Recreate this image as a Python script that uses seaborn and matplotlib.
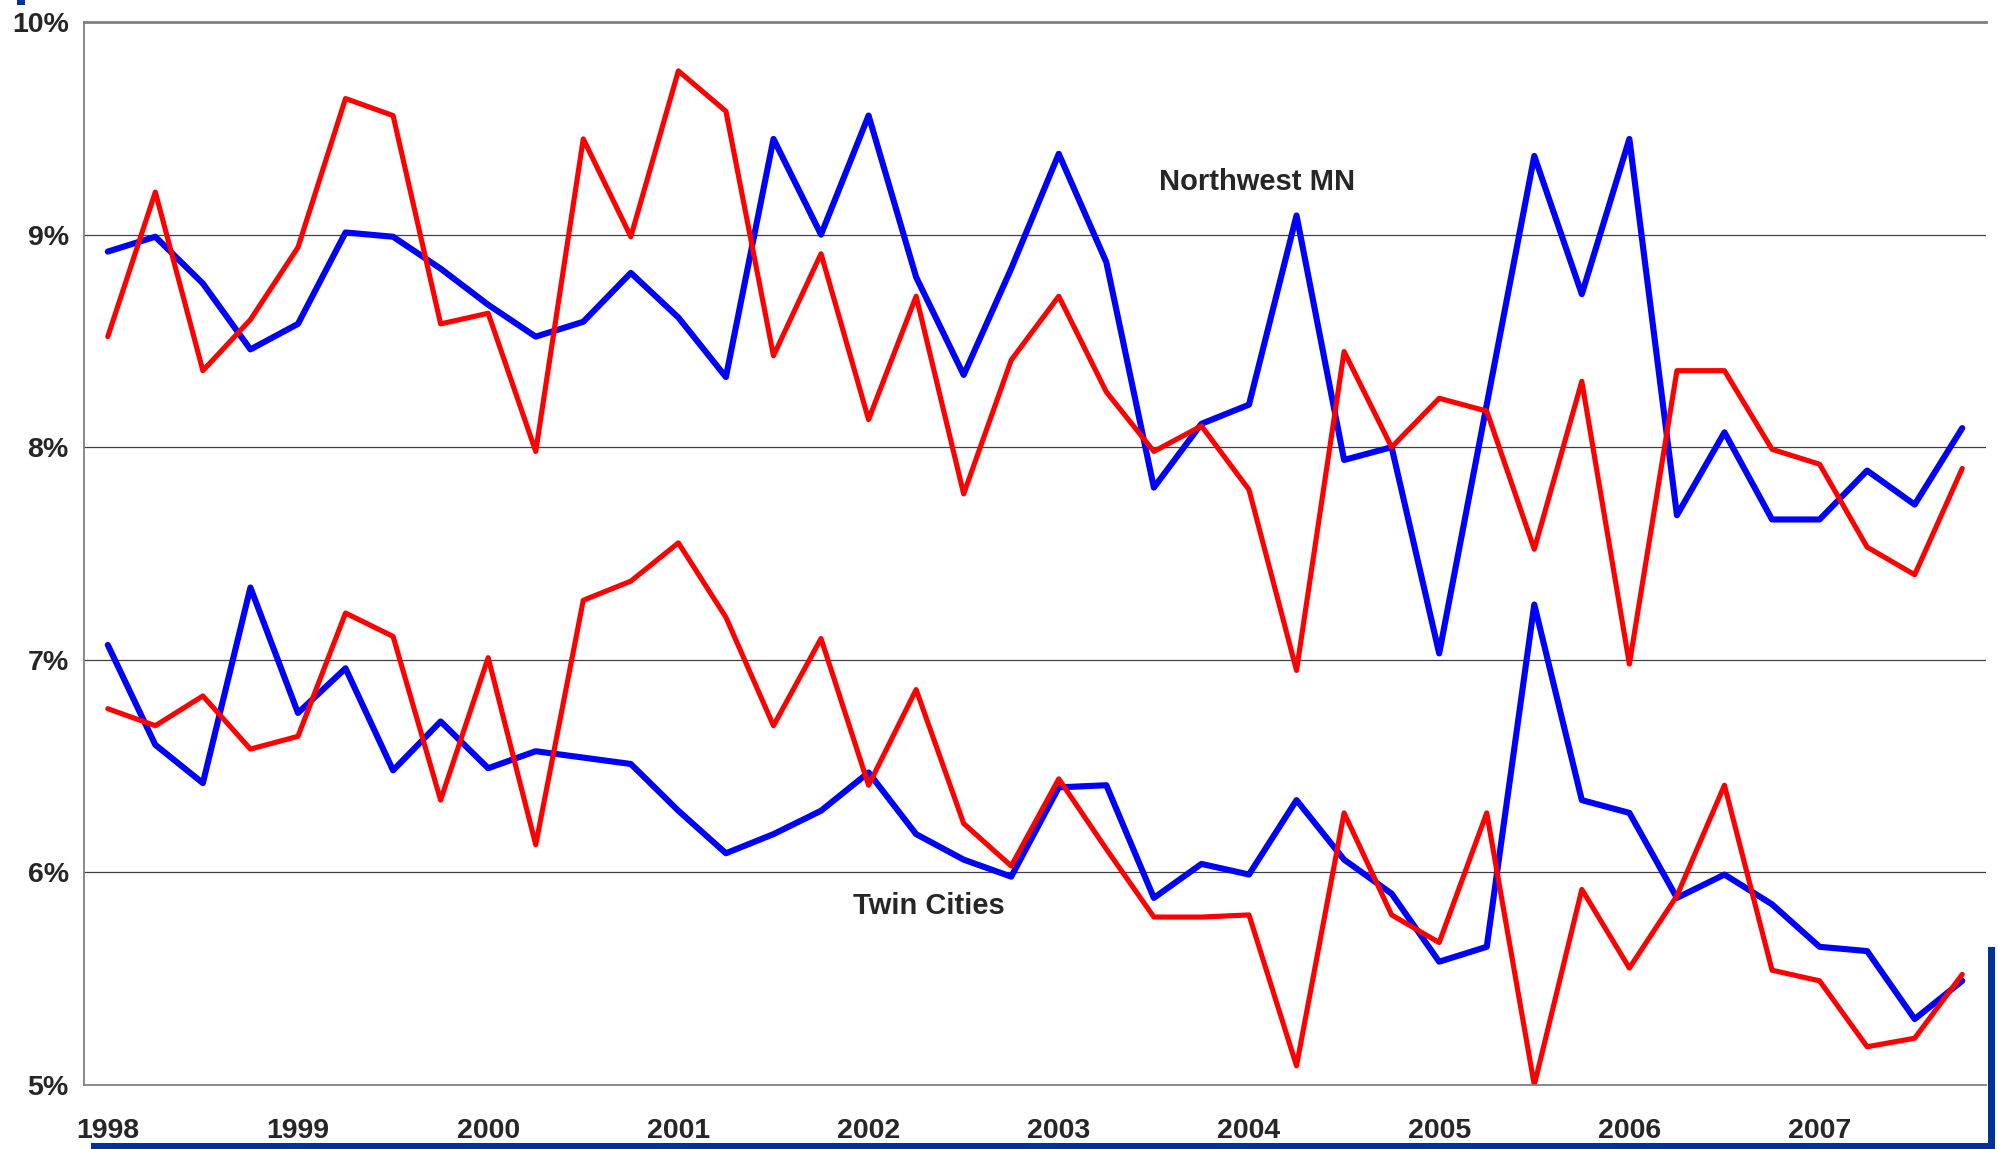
import pandas as pd
import matplotlib
matplotlib.use("Agg")
import matplotlib.pyplot as plt
from matplotlib import font_manager
from matplotlib.patches import Rectangle
from matplotlib.ticker import FixedLocator, FuncFormatter
import seaborn as sns

years = [str(y) for y in range(1998, 2008)]
quarters = [f"{y} Q{q}" for y in years for q in range(1, 5)]

# Northwest MN (upper pair)
nw_red = [8.52, 9.20, 8.36, 8.60, 8.94, 9.64, 9.56, 8.58, 8.63, 7.98,
          9.45, 8.99, 9.77, 9.58, 8.43, 8.91, 8.13, 8.71, 7.78, 8.41,
          8.71, 8.26, 7.98, 8.10, 7.80, 6.95, 8.45, 8.00, 8.23, 8.17,
          7.52, 8.31, 6.98, 8.36, 8.36, 7.99, 7.92, 7.53, 7.40, 7.90]
nw_blue = [8.92, 8.99, 8.77, 8.46, 8.58, 9.01, 8.99, 8.84, 8.67, 8.52,
           8.59, 8.82, 8.61, 8.33, 9.45, 9.00, 9.56, 8.80, 8.34, 8.84,
           9.38, 8.87, 7.81, 8.11, 8.20, 9.09, 7.94, 8.00, 7.03, 8.20,
           9.37, 8.72, 9.45, 7.68, 8.07, 7.66, 7.66, 7.89, 7.73, 8.09]

# Twin Cities (lower pair)
tc_red = [6.77, 6.69, 6.83, 6.58, 6.64, 7.22, 7.11, 6.34, 7.01, 6.13,
          7.28, 7.37, 7.55, 7.20, 6.69, 7.10, 6.41, 6.86, 6.23, 6.03,
          6.44, 6.11, 5.79, 5.79, 5.80, 5.09, 6.28, 5.80, 5.67, 6.28,
          5.00, 5.92, 5.55, 5.89, 6.41, 5.54, 5.49, 5.18, 5.22, 5.52]
tc_blue = [7.07, 6.60, 6.42, 7.34, 6.75, 6.96, 6.48, 6.71, 6.49, 6.57,
           6.54, 6.51, 6.29, 6.09, 6.18, 6.29, 6.47, 6.18, 6.06, 5.98,
           6.40, 6.41, 5.88, 6.04, 5.99, 6.34, 6.06, 5.90, 5.58, 5.65,
           7.26, 6.34, 6.28, 5.88, 5.99, 5.85, 5.65, 5.63, 5.31, 5.49]

series = {
    "nw_blue": (nw_blue, "#0000FF", 4.4),
    "tc_blue": (tc_blue, "#0000FF", 4.4),
    "nw_red": (nw_red, "#FF0000", 3.7),
    "tc_red": (tc_red, "#FF0000", 3.7),
}

rows = []
for name, (vals, _, _) in series.items():
    for i, (q, v) in enumerate(zip(quarters, vals)):
        rows.append({"series": name, "idx": i, "quarter": q, "rate": v})
df = pd.DataFrame(rows)

sns.set_style("white")
plt.rcParams["font.family"] = ["Liberation Sans", "DejaVu Sans"]

# tick labels look like a condensed bold face
names = {f.name for f in font_manager.fontManager.ttflist}
if "Liberation Sans Narrow" in names:
    tick_font, tick_size = "Liberation Sans Narrow", 23
else:
    tick_font, tick_size = "Liberation Sans", 20.5

fig = plt.figure(figsize=(19.98, 11.49), dpi=100)
ax = fig.add_axes([84 / 1998, 64 / 1149, 1902 / 1998, 1063 / 1149])

for name, (_, color, lw) in series.items():
    sns.lineplot(data=df[df["series"] == name], x="idx", y="rate",
                 color=color, linewidth=lw, estimator=None, sort=False,
                 legend=False, ax=ax, solid_capstyle="round",
                 solid_joinstyle="round")

ax.set_xlim(-0.5, 39.5)
ax.set_ylim(5, 10)
ax.set_xlabel("")
ax.set_ylabel("")

# y axis
ax.yaxis.set_major_locator(FixedLocator([5, 6, 7, 8, 9, 10]))
ax.yaxis.set_major_formatter(FuncFormatter(lambda v, p: f"{v:.0f}%"))
ax.yaxis.grid(True, color="#404040", linewidth=0.9)
ax.tick_params(axis="y", which="major", direction="out", length=6,
               width=1, color="#808080", pad=5)

# x axis: year labels on Q1, tick marks between quarters
ax.xaxis.set_major_locator(FixedLocator(list(range(0, 40, 4))))
ax.set_xticklabels(years)
ax.xaxis.set_minor_locator(FixedLocator([i - 0.5 for i in range(41)]))
ax.tick_params(axis="x", which="major", length=0, pad=24)
ax.tick_params(axis="x", which="minor", direction="out", length=6,
               width=1, color="#808080")
for lab in ax.get_xticklabels() + ax.get_yticklabels():
    lab.set_fontweight("bold")
    lab.set_fontfamily(tick_font)
    lab.set_fontsize(tick_size)

for side in ["left", "bottom"]:
    ax.spines[side].set_color("#808080")
    ax.spines[side].set_linewidth(1.3)
ax.spines["top"].set_color("#808080")
ax.spines["top"].set_linewidth(2)
ax.spines["right"].set_visible(False)

ax.text(24.16, 9.208, "Northwest MN", ha="center", va="baseline",
        fontsize=21, fontweight="bold")
ax.text(17.27, 5.804, "Twin Cities", ha="center", va="baseline",
        fontsize=21, fontweight="bold")

# decorative blue frame pieces
frame = "#003399"
fig.add_artist(Rectangle((91 / 1998, 0), 1904 / 1998, 6 / 1149,
                         transform=fig.transFigure, color=frame, lw=0))
fig.add_artist(Rectangle((1988 / 1998, 0), 7 / 1998, 202 / 1149,
                         transform=fig.transFigure, color=frame, lw=0))
fig.add_artist(Rectangle((17 / 1998, 1144 / 1149), 8 / 1998, 5 / 1149,
                         transform=fig.transFigure, color=frame, lw=0))

fig.savefig("out.png", dpi=100)
